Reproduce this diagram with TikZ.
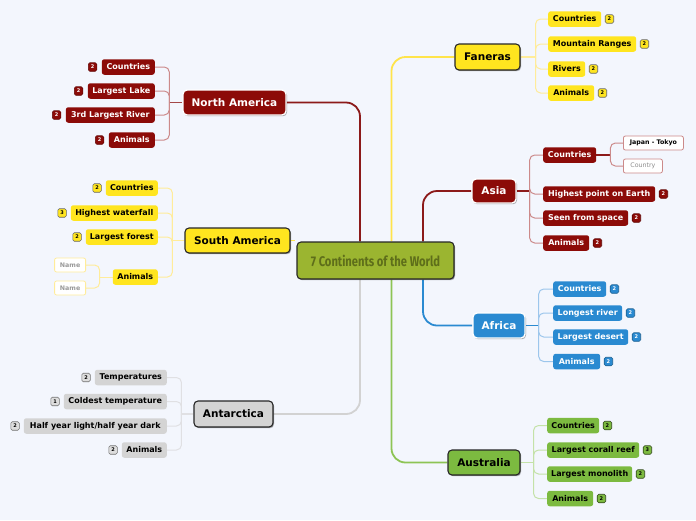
\documentclass[tikz,border=0pt]{standalone}
\usepackage{fontspec}
\setmainfont{DejaVu Sans}
\newfontfamily\ctrfont{Fira Sans}
\usetikzlibrary{shadows}
\definecolor{bgc}{HTML}{F3F6FD}
\definecolor{dred}{HTML}{8C0B08}
\definecolor{redln}{HTML}{8C1A1A}
\definecolor{redsub}{HTML}{CC8A8A}
\definecolor{yel}{HTML}{FFE51F}
\definecolor{yelln}{HTML}{FFE44A}
\definecolor{yelsub}{HTML}{FFEC9A}
\definecolor{blu}{HTML}{2A8AD1}
\definecolor{blusub}{HTML}{9CC6EC}
\definecolor{gry}{HTML}{D4D4D4}
\definecolor{gryln}{HTML}{D2D2D2}
\definecolor{grysub}{HTML}{E0E0E3}
\definecolor{grn}{HTML}{7CBA40}
\definecolor{grnln}{HTML}{8DC455}
\definecolor{grnsub}{HTML}{C4E2A8}
\definecolor{ctr}{HTML}{9BB530}
\definecolor{ctrtxt}{HTML}{5E6E1A}
\pgfdeclarelayer{bg}
\pgfsetlayers{bg,main}
\begin{document}
\begin{tikzpicture}[x=1pt,y=-1pt,
  kid/.style={rounded corners=2.5, minimum height=15.5, inner xsep=3, inner ysep=0, font=\bfseries\fontsize{8}{9}\selectfont},
  rc/.style={kid, fill=dred, text=white},
  yc/.style={kid, fill=yel, text=black},
  gc/.style={kid, fill=gry, text=black},
  bc/.style={kid, fill=blu, text=white},
  ac/.style={kid, fill=grn, text=black},
  leaf/.style={rounded corners=2, minimum height=14, inner xsep=2, inner ysep=0, fill=white, line width=0.8, font=\bfseries\fontsize{6.3}{7}\selectfont},
  mainbox/.style={rounded corners=4, minimum height=25, inner sep=0, font=\bfseries\fontsize{10.5}{12}\selectfont, line width=1.1,
     drop shadow={shadow xshift=1pt, shadow yshift=-1.2pt, opacity=0.35, fill=black}},
  blackbox/.style={mainbox, draw=black!85},
  whitebox/.style={mainbox, draw=white, line width=1.4, text=white},
  badge/.style={rounded corners=1.5, minimum size=8.5, inner sep=0, line width=0.6, font=\bfseries\fontsize{5}{5}\selectfont},
  rb/.style={badge, fill=dred, draw=dred!70!black, text=white, anchor=#1},
  yb/.style={badge, fill=yel, draw=black!60, text=black, anchor=#1},
  gb/.style={badge, fill=gry!80, draw=black!55, text=black, anchor=#1},
  bb/.style={badge, fill=blu, draw=blu!70!black, text=white, anchor=#1},
  ab/.style={badge, fill=grn, draw=black!60!grn, text=black, anchor=#1},
  mainln/.style={line width=1.8, rounded corners=14},
  subln/.style={line width=1, rounded corners=5}
]
\useasboundingbox (0,0) rectangle (696,520);
\begin{pgfonlayer}{bg}
\fill[bgc] (0,0) rectangle (696,520);
\end{pgfonlayer}

% central
\node[rounded corners=4, draw=black!85, line width=1.1, fill=ctr, minimum width=157, minimum height=37, inner sep=0,
  drop shadow={shadow xshift=1pt, shadow yshift=-1.2pt, opacity=0.35, fill=black}] (c) at (375.5,260.5)
  {\ctrfont\bfseries\fontsize{14}{16}\selectfont\color{ctrtxt}\scalebox{0.8}[1]{7 Continents of the World}};

% main nodes
\node[blackbox, fill=yel, minimum width=65, minimum height=26] (fan) at (487.5,57) {Faneras};
\node[whitebox, fill=dred, minimum width=103] (na) at (234.5,102.5) {North America};
\node[blackbox, fill=yel, minimum width=105] (sa) at (237.5,240.5) {South America};
\node[whitebox, fill=dred, minimum width=44, minimum height=24] (asia) at (494,191) {Asia};
\node[whitebox, fill=blu, minimum width=52] (afr) at (499,325.5) {Africa};
\node[blackbox, fill=gry, minimum width=79, minimum height=26] (ant) at (233.5,414) {Antarctica};
\node[blackbox, fill=grn, minimum width=72] (aus) at (484,462.5) {Australia};

% North America children
\node[rc, anchor=east, minimum width=53] (na1) at (155,67) {Countries};
\node[rc, anchor=east, minimum width=67] (na2) at (155,91) {Largest Lake};
\node[rc, anchor=east, minimum width=89] (na3) at (155,115) {3rd Largest River};
\node[rc, anchor=east, minimum width=46] (na4) at (155,140) {Animals};
\node[rb=east] (na1b) at ([xshift=-4.5]na1.west) {2};
\node[rb=east] (na2b) at ([xshift=-4.5]na2.west) {2};
\node[rb=east] (na3b) at ([xshift=-4.5]na3.west) {2};
\node[rb=east] (na4b) at ([xshift=-4.5]na4.west) {2};

% South America children
\node[yc, anchor=east, minimum width=52] (sa1) at (158,188) {Countries};
\node[yc, anchor=east, minimum width=87] (sa2) at (158,213) {Highest waterfall};
\node[yc, anchor=east, minimum width=72] (sa3) at (158,237) {Largest forest};
\node[yc, anchor=east, minimum width=45] (sa4) at (158,277) {Animals};
\node[yb=east] (sa1b) at ([xshift=-4]sa1.west) {2};
\node[yb=east] (sa2b) at ([xshift=-4]sa2.west) {3};
\node[yb=east] (sa3b) at ([xshift=-4]sa3.west) {2};
\node[leaf, draw=yelsub, text=black!40, anchor=east, minimum width=31] (sa41) at (86,265) {Name};
\node[leaf, draw=yelsub, text=black!40, anchor=east, minimum width=31] (sa42) at (86,288) {Name};

% Antarctica children
\node[gc, anchor=east, minimum width=72] (an1) at (167,377.5) {Temperatures};
\node[gc, anchor=east, minimum width=103] (an2) at (167,401.5) {Coldest temperature};
\node[gc, anchor=east, minimum width=143] (an3) at (167,426) {Half year light/half year dark};
\node[gc, anchor=east, minimum width=45] (an4) at (167,450) {Animals};
\node[gb=east] (an1b) at ([xshift=-4]an1.west) {2};
\node[gb=east] (an2b) at ([xshift=-4]an2.west) {1};
\node[gb=east] (an3b) at ([xshift=-4]an3.west) {2};
\node[gb=east] (an4b) at ([xshift=-4]an4.west) {2};

% Faneras children
\node[yc, anchor=west, minimum width=53] (f1) at (548,19) {Countries};
\node[yc, anchor=west, minimum width=88] (f2) at (548,44) {Mountain Ranges};
\node[yc, anchor=west, minimum width=37] (f3) at (548,69) {Rivers};
\node[yc, anchor=west, minimum width=46] (f4) at (548,93) {Animals};
\node[yb=west] (f1b) at ([xshift=3.5]f1.east) {2};
\node[yb=west] (f2b) at ([xshift=3.5]f2.east) {2};
\node[yb=west] (f3b) at ([xshift=3.5]f3.east) {2};
\node[yb=west] (f4b) at ([xshift=3.5]f4.east) {2};

% Asia children
\node[rc, anchor=west, minimum width=53] (as1) at (543,155) {Countries};
\node[rc, anchor=west, minimum width=112] (as2) at (543,194) {Highest point on Earth};
\node[rc, anchor=west, minimum width=85] (as3) at (543,218) {Seen from space};
\node[rc, anchor=west, minimum width=46] (as4) at (543,243) {Animals};
\node[rb=west] (as2b) at ([xshift=3.5]as2.east) {2};
\node[rb=west] (as3b) at ([xshift=3.5]as3.east) {2};
\node[rb=west] (as4b) at ([xshift=3.5]as4.east) {2};
\node[leaf, draw=redsub, text=black, anchor=west, minimum width=60] (as11) at (623,143) {Japan - Tokyo};
\node[leaf, draw=redsub, text=black!45, anchor=west, minimum width=39, font=\fontsize{6.3}{7}\selectfont] (as12) at (623,166) {Country};

% Africa children
\node[bc, anchor=west, minimum width=53] (af1) at (553,289) {Countries};
\node[bc, anchor=west, minimum width=69] (af2) at (553,313) {Longest river};
\node[bc, anchor=west, minimum width=75] (af3) at (553,337) {Largest desert};
\node[bc, anchor=west, minimum width=47] (af4) at (553,361.5) {Animals};
\node[bb=west] (af1b) at ([xshift=3.5]af1.east) {2};
\node[bb=west] (af2b) at ([xshift=3.5]af2.east) {2};
\node[bb=west] (af3b) at ([xshift=3.5]af3.east) {2};
\node[bb=west] (af4b) at ([xshift=3.5]af4.east) {2};

% Australia children
\node[ac, anchor=west, minimum width=52] (au1) at (547,425.5) {Countries};
\node[ac, anchor=west, minimum width=92] (au2) at (547,450) {Largest corall reef};
\node[ac, anchor=west, minimum width=85] (au3) at (547,474) {Largest monolith};
\node[ac, anchor=west, minimum width=46] (au4) at (547,498.5) {Animals};
\node[ab=west] (au1b) at ([xshift=3.5]au1.east) {2};
\node[ab=west] (au2b) at ([xshift=3.5]au2.east) {3};
\node[ab=west] (au3b) at ([xshift=3.5]au3.east) {2};
\node[ab=west] (au4b) at ([xshift=3.5]au4.east) {2};

% junction coordinates
\coordinate (jna) at ([xshift=-13]na.west);
\coordinate (jsa) at ([xshift=-12]sa.west);
\coordinate (jsa4) at ([xshift=-13]sa4.west);
\coordinate (jan) at ([xshift=-12]ant.west);
\coordinate (jf) at ([xshift=15]fan.east);
\coordinate (jas) at ([xshift=13]asia.east);
\coordinate (jas1) at ([xshift=14]as1.east);
\coordinate (jaf) at ([xshift=13]afr.east);
\coordinate (jau) at ([xshift=13]aus.east);

\begin{pgfonlayer}{bg}
% main connectors
\draw[mainln, redln] ([xshift=-15.5]c.north) |- (na.east);
\draw[mainln, yelln] ([xshift=16]c.north) |- (fan.west);
\draw[mainln, redln] ([xshift=47.5]c.north) |- (asia.west);
\draw[mainln, blu] ([xshift=47.5]c.south) |- (afr.west);
\draw[mainln, gryln] ([xshift=-15.5]c.south) |- (ant.east);
\draw[mainln, grnln] ([xshift=16]c.south) |- (aus.west);
\draw[mainln, yelln] (sa.east) -- ([xshift=4]sa.east);
% sub connectors
\draw[line width=1.2, redln!80] (na.west) -- (jna);
\foreach \n in {na1,na2,na3,na4} \draw[subln, redsub] (jna) |- (\n.east);
\draw[line width=1.2, yelsub] (sa.west) -- (jsa);
\foreach \n in {sa1,sa2,sa3,sa4} \draw[subln, yelsub] (jsa) |- (\n.east);
\draw[line width=1, yelsub] (sa4.west) -- (jsa4);
\foreach \n in {sa41,sa42} \draw[subln, yelsub] (jsa4) |- (\n.east);
\draw[line width=1.2, grysub] (ant.west) -- (jan);
\foreach \n in {an1,an2,an3,an4} \draw[subln, grysub] (jan) |- (\n.east);
\draw[line width=1.2, yelsub] (fan.east) -- (jf);
\foreach \n in {f1,f2,f3,f4} \draw[subln, yelsub] (jf) |- (\n.west);
\draw[line width=1.2, redln] (asia.east) -- (jas);
\foreach \n in {as1,as2,as3,as4} \draw[subln, redsub] (jas) |- (\n.west);
\draw[line width=1.2, redln] (as1.east) -- (jas1);
\foreach \n in {as11,as12} \draw[subln, redsub] (jas1) |- (\n.west);
\draw[line width=1.2, blu] (afr.east) -- (jaf);
\foreach \n in {af1,af2,af3,af4} \draw[subln, blusub] (jaf) |- (\n.west);
\draw[line width=1.2, grnsub] (aus.east) -- (jau);
\foreach \n in {au1,au2,au3,au4} \draw[subln, grnsub] (jau) |- (\n.west);
\end{pgfonlayer}
\end{tikzpicture}
\end{document}
